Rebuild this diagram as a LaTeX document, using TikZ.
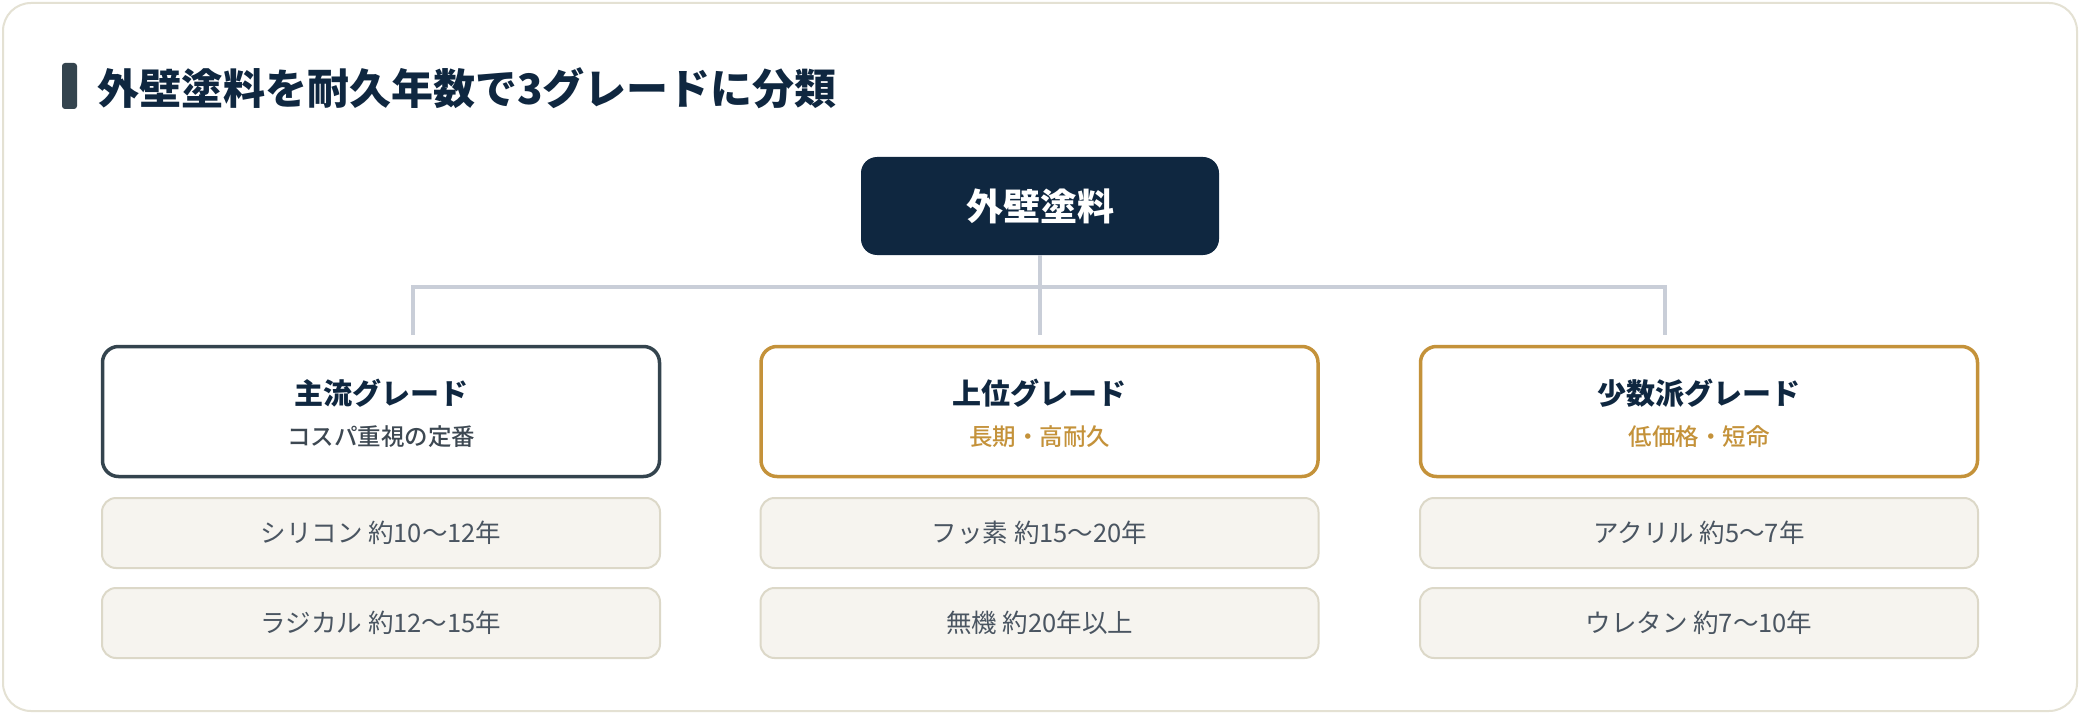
\documentclass[tikz,border=0pt]{standalone}
\usepackage{fontspec}
\setmainfont{Noto Sans CJK JP}
\newfontfamily\jp{Noto Sans CJK JP}
\newfontfamily\jpmed{Noto Sans CJK JP Medium}
\definecolor{navy}{HTML}{0F2740}
\definecolor{slate}{HTML}{34444E}
\definecolor{gold}{HTML}{C4923A}
\definecolor{itemfill}{HTML}{F6F4EF}
\definecolor{itemline}{HTML}{DCD8C8}
\definecolor{itemtext}{HTML}{4A5561}
\definecolor{connline}{HTML}{C9CED8}
\definecolor{cardline}{HTML}{E4E1D3}
\definecolor{subgrey}{HTML}{3D4852}
\tikzset{
  rootbox/.style={draw=none, fill=navy, rounded corners=16pt, minimum width=358pt, minimum height=98pt, inner sep=0pt,
    text=white, font=\jp\bfseries\fontsize{37}{44}\selectfont},
  gradebox/.style={fill=white, line width=3.5pt, rounded corners=16pt, minimum width=557pt, minimum height=130pt, inner sep=0pt},
  itembox/.style={draw=itemline, fill=itemfill, line width=2pt, rounded corners=14pt, minimum width=558pt, minimum height=70pt, inner sep=0pt,
    text=itemtext, font=\jp\fontsize{25.5}{30}\selectfont},
  gradetitle/.style={inner sep=0pt, text=navy, font=\jp\bfseries\fontsize{29}{34}\selectfont},
  gradesub/.style={inner sep=0pt, font=\jpmed\fontsize{23.5}{28}\selectfont},
  conn/.style={draw=connline, line width=3.5pt, line join=miter},
}
\begin{document}
\begin{tikzpicture}[x=1pt,y=-1pt]
\useasboundingbox (0,0) rectangle (2080,714);
\fill[white] (0,0) rectangle (2080,714);
\draw[cardline, line width=2pt, rounded corners=28pt] (3,3) rectangle (2077,711);
% heading
\fill[slate, rounded corners=3pt] (62,63) rectangle (77,109);
\node[anchor=west, inner sep=0pt, text=navy, font=\jp\bfseries\fontsize{42}{50}\selectfont] (heading) at (97,88) {外壁塗料を耐久年数で3グレードに分類};
% root
\node[rootbox] (root) at (1040,206) {外壁塗料};
% grade boxes
\node[gradebox, draw=slate] (g1) at (381,411.5) {};
\node[gradebox, draw=gold] (g2) at (1039.5,411.5) {};
\node[gradebox, draw=gold] (g3) at (1699,411.5) {};
\node[gradetitle] (t1) at (381,393) {主流グレード};
\node[gradetitle] (t2) at (1039.5,393) {上位グレード};
\node[gradetitle] (t3) at (1699,393) {少数派グレード};
\node[gradesub, text=subgrey] (s1) at (381,436.5) {コスパ重視の定番};
\node[gradesub, text=gold] (s2) at (1039.5,436.5) {長期・高耐久};
\node[gradesub, text=gold] (s3) at (1699,436.5) {低価格・短命};
% items
\node[itembox] (i11) at (381,533) {シリコン 約10〜12年};
\node[itembox] (i12) at (381,623) {ラジカル 約12〜15年};
\node[itembox] (i21) at (1039.5,533) {フッ素 約15〜20年};
\node[itembox] (i22) at (1039.5,623) {無機 約20年以上};
\node[itembox] (i31) at (1699,533) {アクリル 約5〜7年};
\node[itembox] (i32) at (1699,623) {ウレタン 約7〜10年};
% connectors
\coordinate (b1) at (413,287);
\coordinate (b3) at (1665,287);
\coordinate (d1) at (413,335);
\coordinate (d2) at (1040,335);
\coordinate (d3) at (1665,335);
\draw[conn] (root.south) -- (d2);
\draw[conn] (d1) -- (b1) -- (b3) -- (d3);
\end{tikzpicture}
\end{document}
